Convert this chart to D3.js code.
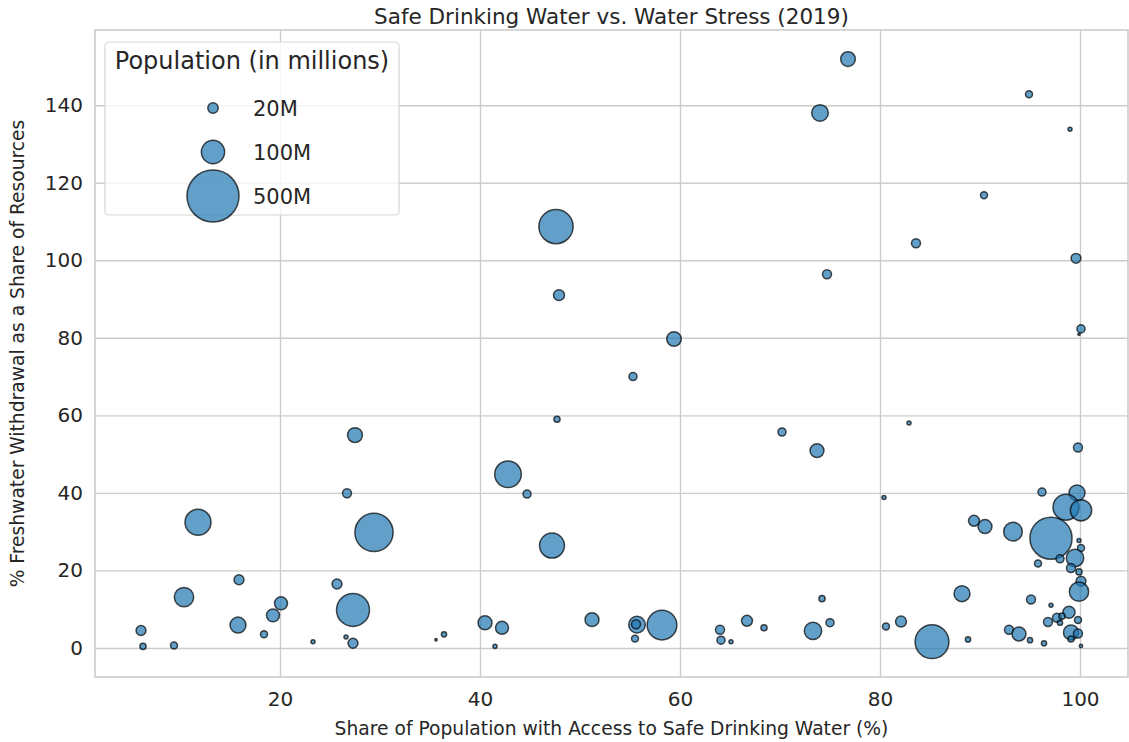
<!DOCTYPE html>
<html>
<head>
<meta charset="utf-8">
<script src="https://cdn.jsdelivr.net/npm/d3@7"></script>
<style>
  html, body { margin: 0; padding: 0; background: #fff; }
  svg { display: block; font-family: "DejaVu Sans", sans-serif; }
</style>
</head>
<body>
<svg id="chart" width="1129" height="742"></svg>
<script>
// Share of population with access to safe drinking water (%)
const waterAccess = [
  76.8, 74.0, 94.9, 99.0, 90.4, 83.6, 74.7, 99.6, 100.1, 99.9,
  47.6, 47.9, 59.4, 55.3, 47.7,
  27.5, 26.7, 11.8, 29.4, 15.9, 25.7, 10.4, 20.1, 19.3, 27.3,
  15.8, 6.1, 18.4, 6.3, 9.4, 23.3, 26.6, 27.3, 35.6, 36.4,
  42.8, 44.7, 47.2, 40.5, 42.2, 51.2, 55.7, 55.6, 55.5, 58.2,
  41.5, 64.0, 64.1, 65.1, 66.7, 68.4,
  70.2, 73.7, 82.9, 99.8, 80.4, 96.2, 99.7, 98.6, 100.1, 89.4,
  90.5, 93.3, 97.1, 99.9, 100.1, 99.5, 98.0, 95.8, 99.1, 99.9,
  100.1, 99.9, 88.2, 95.1, 97.1, 98.9, 97.7, 98.2, 98.0, 96.8,
  99.8, 99.1, 99.8, 99.1, 100.1, 96.4, 95.0, 92.9, 93.9, 88.8,
  85.2, 82.1, 80.6, 75.0, 73.3, 74.2
];
// Freshwater withdrawal as a share of resources (%)
const waterStress = [
  151.9, 138.0, 142.8, 133.8, 116.8, 104.4, 96.4, 100.5, 82.3, 80.9,
  108.7, 91.0, 79.7, 70.0, 59.0,
  54.9, 39.9, 32.4, 29.8, 17.6, 16.5, 13.1, 11.5, 8.4, 9.8,
  5.9, 4.5, 3.5, 0.4, 0.6, 1.6, 2.8, 1.2, 2.1, 3.5,
  44.8, 39.7, 26.4, 6.5, 5.2, 7.3, 6.0, 6.1, 2.4, 5.9,
  0.4, 4.7, 2.0, 1.6, 7.0, 5.2,
  55.7, 50.9, 58.0, 51.7, 38.8, 40.2, 40.0, 36.3, 35.5, 32.8,
  31.3, 30.0, 28.3, 27.7, 25.8, 23.2, 23.0, 21.8, 20.6, 19.6,
  17.2, 14.5, 14.0, 12.5, 11.0, 9.2, 7.8, 8.2, 6.5, 6.7,
  7.2, 4.0, 3.7, 2.3, 0.5, 1.2, 2.0, 4.7, 3.6, 2.2,
  1.6, 6.8, 5.5, 6.5, 4.4, 12.7
];
// Population (millions)
const population = [
  40, 51, 9, 3, 9, 15, 15, 18, 12, 1,
  217, 22, 39, 12, 7,
  41, 15, 125, 270, 18, 18, 69, 31, 31, 201,
  47, 18, 9, 7, 9, 3, 3, 18, 1, 5,
  131, 12, 115, 36, 31, 36, 51, 15, 9, 163,
  3, 15, 12, 3, 22, 7,
  12, 36, 3, 15, 3, 12, 47, 125, 84, 22,
  36, 64, 328, 3, 9, 56, 12, 9, 15, 7,
  18, 69, 47, 15, 3, 27, 15, 7, 5, 15,
  9, 42, 15, 7, 2, 5, 5, 15, 36, 5,
  211, 22, 9, 12, 56, 7
];
const xTicks = [20, 40, 60, 80, 100];
const yTicks = [0, 20, 40, 60, 80, 100, 120, 140];
const legendSizes = [20, 100, 500];
const legendLabels = ["20M", "100M", "500M"];

const svg = d3.select("#chart");
const W = 1129, H = 742;
const m = { left: 95, right: 1, top: 30, bottom: 65 };
const pw = W - m.left - m.right, ph = H - m.top - m.bottom;

const x = d3.scaleLinear().domain([1.5, 104.8]).range([m.left, m.left + pw]);
const y = d3.scaleLinear().domain([-7.5, 159.4]).range([m.top + ph, m.top]);
const r = d3.scaleSqrt().domain([0, 500]).range([0, 26]);

const textColor = "#262626";
const gridColor = "#cccccc";

// grid
const gx = svg.append("g").attr("transform", `translate(0,${m.top + ph})`)
  .call(d3.axisBottom(x).tickValues(xTicks).tickSize(-ph).tickPadding(15).tickFormat(d3.format("d")));
const gy = svg.append("g").attr("transform", `translate(${m.left},0)`)
  .call(d3.axisLeft(y).tickValues(yTicks).tickSize(-pw).tickPadding(12).tickFormat(d3.format("d")));
[gx, gy].forEach(g => {
  g.select(".domain").remove();
  g.selectAll(".tick line").attr("stroke", gridColor).attr("stroke-width", 1.4);
  g.selectAll(".tick text").attr("fill", textColor).attr("font-size", 20)
    .attr("font-family", "DejaVu Sans, sans-serif");
});

// frame
svg.append("rect").attr("x", m.left).attr("y", m.top).attr("width", pw).attr("height", ph)
  .attr("fill", "none").attr("stroke", gridColor).attr("stroke-width", 1.6);

// points
const data = waterAccess.map((d, i) => ({ x: d, y: waterStress[i], p: population[i] }));
svg.append("g").selectAll("circle").data(data).join("circle")
  .attr("cx", d => x(d.x)).attr("cy", d => y(d.y)).attr("r", d => r(d.p))
  .attr("fill", "#1f77b4").attr("fill-opacity", 0.7)
  .attr("stroke", "#000").attr("stroke-opacity", 0.7).attr("stroke-width", 1.5);

// title & labels
svg.append("text").attr("x", m.left + pw / 2).attr("y", 24).attr("text-anchor", "middle")
  .attr("font-size", 21.5).attr("fill", textColor).text("Safe Drinking Water vs. Water Stress (2019)");
svg.append("text").attr("x", m.left + pw / 2).attr("y", 735).attr("text-anchor", "middle")
  .attr("font-size", 18.7).attr("fill", textColor).text("Share of Population with Access to Safe Drinking Water (%)");
svg.append("text").attr("transform", `translate(24,${m.top + ph / 2}) rotate(-90)`).attr("text-anchor", "middle")
  .attr("font-size", 18.7).attr("fill", textColor).text("% Freshwater Withdrawal as a Share of Resources");

// legend
const lg = svg.append("g");
lg.append("rect").attr("x", 105).attr("y", 42).attr("width", 294).attr("height", 173).attr("rx", 4)
  .attr("fill", "#fff").attr("fill-opacity", 0.8).attr("stroke", "#d6d6d6").attr("stroke-width", 1.2);
lg.append("text").attr("x", 252).attr("y", 69).attr("text-anchor", "middle").attr("font-size", 24)
  .attr("fill", textColor).text("Population (in millions)");
const ly = [108, 152, 196];
legendSizes.forEach((s, i) => {
  lg.append("circle").attr("cx", 213).attr("cy", ly[i]).attr("r", r(s))
    .attr("fill", "#1f77b4").attr("fill-opacity", 0.7)
    .attr("stroke", "#000").attr("stroke-opacity", 0.7).attr("stroke-width", 1.5);
  lg.append("text").attr("x", 253).attr("y", ly[i] + 7.5).attr("font-size", 21)
    .attr("fill", textColor).text(legendLabels[i]);
});
</script>
</body>
</html>
